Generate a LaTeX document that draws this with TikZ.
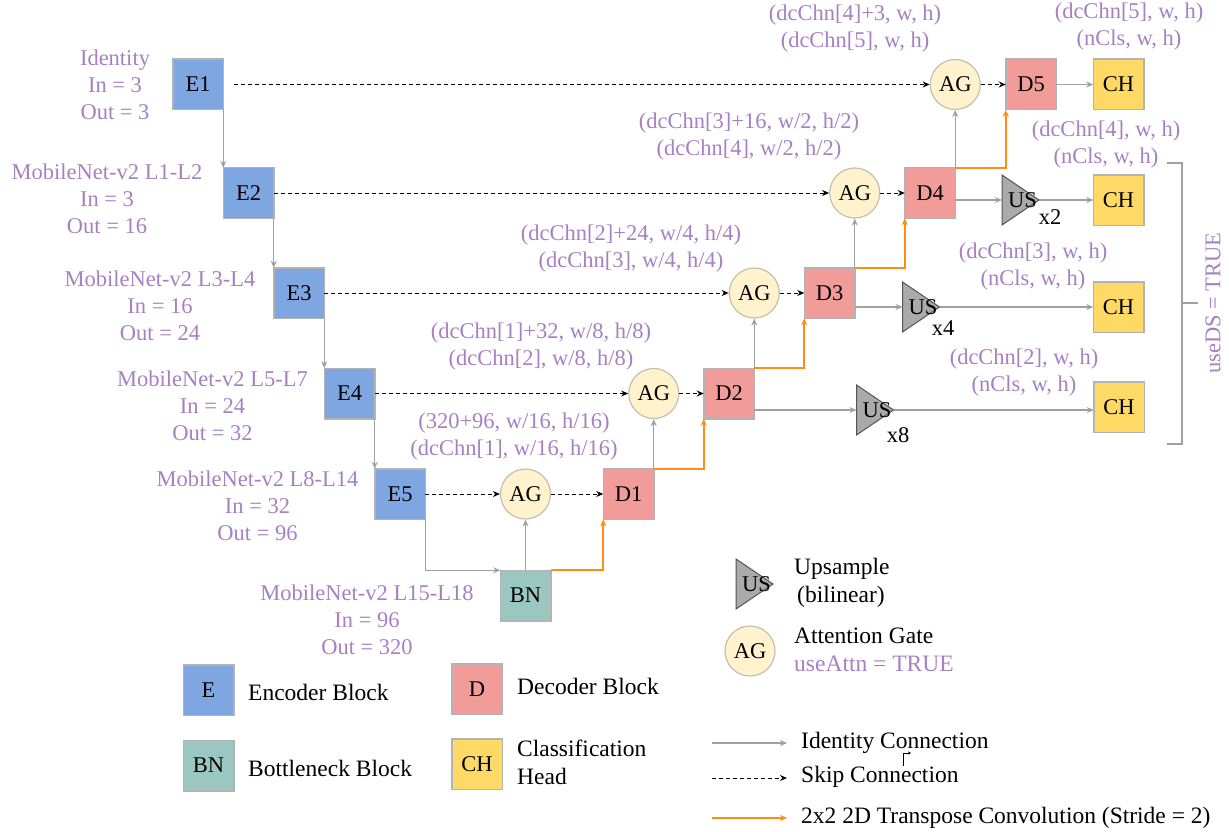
\documentclass[tikz,border=0pt]{standalone}
\usepackage{fontspec}
\setmainfont{Liberation Serif}
\usetikzlibrary{arrows.meta,backgrounds,calc}
\definecolor{encblue}{RGB}{126,166,224}
\definecolor{decpink}{RGB}{241,156,153}
\definecolor{chyellow}{RGB}{255,217,102}
\definecolor{bnteal}{RGB}{154,199,191}
\definecolor{agfill}{RGB}{255,242,204}
\definecolor{agdraw}{RGB}{196,192,176}
\definecolor{boxgray}{RGB}{179,179,179}
\definecolor{arrgray}{RGB}{160,160,160}
\definecolor{tcorange}{RGB}{255,140,20}
\definecolor{lblpurple}{RGB}{166,128,192}
\definecolor{usfill}{RGB}{170,170,170}
\definecolor{usdraw}{RGB}{85,85,85}
\begin{document}
\begin{tikzpicture}[x=1pt,y=-1pt,
  every node/.style={font=\fontsize{22.5}{27}\selectfont, inner sep=0pt},
  blk/.style={draw=boxgray, line width=1.5pt, minimum size=50.5pt, outer sep=0pt},
  enc/.style={blk, fill=encblue},
  dec/.style={blk, fill=decpink},
  bot/.style={blk, fill=bnteal},
  chd/.style={blk, fill=chyellow},
  agc/.style={circle, draw=agdraw, line width=1.2pt, fill=agfill, minimum size=50pt},
  usbox/.style={minimum width=37pt, minimum height=50pt, outer sep=0pt},
  lbl/.style={text=lblpurple, align=center},
  legtxt/.style={anchor=west, align=left, font=\fontsize{23.5}{28}\selectfont},
  idarr/.style={draw=arrgray, line width=1.4pt, -{Stealth[length=7pt,width=6pt]}},
  skarr/.style={draw=black, line width=1.0pt, dash pattern=on 4pt off 3pt, -{Stealth[length=7pt,width=6pt]}},
  tcarr/.style={draw=tcorange, line width=1.6pt, -{Stealth[length=7pt,width=6pt]}},
  brk/.style={draw=arrgray, line width=1.2pt},
]
\useasboundingbox (0,0) rectangle (1229,832);

% encoder
\node[enc] (E1) at (198,84.5) {E1};
\node[enc] (E2) at (248.5,193) {E2};
\node[enc] (E3) at (299,293) {E3};
\node[enc] (E4) at (349.5,393.5) {E4};
\node[enc] (E5) at (400,494) {E5};
\node[bot] (BN) at (525.5,595.5) {BN};

% decoder
\node[dec] (D1) at (628.5,494) {D1};
\node[dec] (D2) at (729,393.5) {D2};
\node[dec] (D3) at (829.5,293) {D3};
\node[dec] (D4) at (930,193) {D4};
\node[dec] (D5) at (1031,84.5) {D5};

% attention gates
\node[agc] (AG1) at (BN.north |- E5) {AG};
\node[agc] (AG2) at (D1.north east |- E4) {AG};
\node[agc] (AG3) at (D2.north east |- E3) {AG};
\node[agc] (AG4) at (D3.north east |- E2) {AG};
\node[agc] (AG5) at (D4.north east |- E1) {AG};

% classification heads
\node[chd] (CH1) at (1118.5,84.5) {CH};
\node[chd] (CH2) at (1118.5,200) {CH};
\node[chd] (CH3) at (1118.5,307) {CH};
\node[chd] (CH4) at (1119,407) {CH};

% upsample
\node[usbox] (US1) at (1020.5,200) {\hspace{4pt}US};
\node[usbox] (US2) at (921,307) {\hspace{4pt}US};
\node[usbox] (US3) at (875,410) {\hspace{4pt}US};
\node (x2) at (1050,217) {x2};
\node (x4) at (943,328) {x4};
\node (x8) at (898,435) {x8};

% encoder labels
\node[lbl] (lE1) at (115,85) {Identity\\In = 3\\Out = 3};
\node[lbl] (lE2) at (107,199) {MobileNet-v2 L1-L2\\In = 3\\Out = 16};
\node[lbl] (lE3) at (160,306) {MobileNet-v2 L3-L4\\In = 16\\Out = 24};
\node[lbl] (lE4) at (212.5,406) {MobileNet-v2 L5-L7\\In = 24\\Out = 32};
\node[lbl] (lE5) at (257.5,506) {MobileNet-v2 L8-L14\\In = 32\\Out = 96};
\node[lbl] (lBN) at (367,620) {MobileNet-v2 L15-L18\\In = 96\\Out = 320};

% decoder labels
\node[lbl] (lD1) at (514,437) {(320+96, w/16, h/16)\\(dcChn[1], w/16, h/16)};
\node[lbl] (lD2) at (541,347) {(dcChn[1]+32, w/8, h/8)\\(dcChn[2], w/8, h/8)};
\node[lbl] (lD3) at (631,249) {(dcChn[2]+24, w/4, h/4)\\(dcChn[3], w/4, h/4)};
\node[lbl] (lD4) at (749,137) {(dcChn[3]+16, w/2, h/2)\\(dcChn[4], w/2, h/2)};
\node[lbl] (lD5) at (855,29) {(dcChn[4]+3, w, h)\\(dcChn[5], w, h)};
\node[lbl] (lC1) at (1129,27) {(dcChn[5], w, h)\\(nCls, w, h)};
\node[lbl] (lC2) at (1106,145) {(dcChn[4], w, h)\\(nCls, w, h)};
\node[lbl] (lC3) at (1033,267) {(dcChn[3], w, h)\\(nCls, w, h)};
\node[lbl] (lC4) at (1024,373) {(dcChn[2], w, h)\\(nCls, w, h)};

% deep supervision bracket
\coordinate (b1) at (1167,163);
\coordinate (b2) at (1182,163);
\coordinate (b3) at (1182,444);
\coordinate (b4) at (1167,444);
\coordinate (bm) at (1182,303);
\coordinate (bt) at (1198,303);
\draw[brk] (b1) -- (b2) -- (b3) -- (b4);
\draw[brk] (bm) -- (bt);
\node[lbl, rotate=90] (lDS) at (1213,303) {useDS = TRUE};

% encoder chain
\draw[idarr] (E1.south east) -- (E2.north west);
\draw[idarr] (E2.south east) -- (E3.north west);
\draw[idarr] (E3.south east) -- (E4.north west);
\draw[idarr] (E4.south east) -- (E5.north west);
\draw[idarr] (E5.south east) |- (BN.north west);

% skip connections
\draw[skarr] ([xshift=11pt]E1.east) -- (AG5.west);
\draw[skarr] (E2.east) -- (AG4.west);
\draw[skarr] (E3.east) -- (AG3.west);
\draw[skarr] (E4.east) -- (AG2.west);
\draw[skarr] (E5.east) -- (AG1.west);
\draw[skarr] (AG1.east) -- (D1.west);
\draw[skarr] (AG2.east) -- (D2.west);
\draw[skarr] (AG3.east) -- (D3.west);
\draw[skarr] (AG4.east) -- (D4.west);
\draw[skarr] (AG5.east) -- (D5.west);

% gating signals
\draw[idarr] (BN.north) -- (AG1.south);
\draw[idarr] (D1.north east) -- (AG2.south);
\draw[idarr] (D2.north east) -- (AG3.south);
\draw[idarr] (D3.north east) -- (AG4.south);
\draw[idarr] (D4.north east) -- (AG5.south);

% transpose convolutions
\draw[tcarr] (BN.north east) -| (D1.south west);
\draw[tcarr] (D1.north east) -| (D2.south west);
\draw[tcarr] (D2.north east) -| (D3.south west);
\draw[tcarr] (D3.north east) -| (D4.south west);
\draw[tcarr] (D4.north east) -| (D5.south west);

% outputs
\draw[idarr] (D5.east) -- (CH1.west);
\draw[idarr] (D4.east |- US1.west) -- (US1.west);
\draw[idarr] (D3.east |- US2.west) -- (US2.west);
\draw[idarr] (D2.east |- US3.west) -- (US3.west);
\draw[idarr] (US1.east) -- (US1.east -| CH2.west);
\draw[idarr] (US2.east) -- (US2.east -| CH3.west);
\draw[idarr] (US3.east) -- (US3.east -| CH4.west);

% legend
\node[enc] (legE) at (208.5,690) {E};
\node[legtxt] (legEt) at (248,692) {Encoder Block};
\node[bot] (legBN) at (208.5,765.5) {BN};
\node[legtxt] (legBNt) at (248,768) {Bottleneck Block};
\node[dec] (legD) at (477,689) {D};
\node[legtxt] (legDt) at (517,686) {Decoder Block};
\node[chd] (legCH) at (477,764) {CH};
\node[legtxt] (legCHt) at (517,762) {Classification\\Head};
\node[usbox] (legUS) at (754.5,584) {\hspace{4pt}US};
\node[legtxt] (legUSt) at (794,583) {Upsample\\\hspace{3pt}(bilinear)};
\node[agc] (legAG) at (750,651) {AG};
\node[legtxt] (legAGt) at (794,650) {Attention Gate\\{\color{lblpurple}useAttn = TRUE}};

\coordinate (li1) at (712,743);
\coordinate (li2) at (787,743);
\coordinate (ls1) at (712,778);
\coordinate (ls2) at (787,778);
\coordinate (lt1) at (712,818);
\coordinate (lt2) at (787,818);
\draw[idarr] (li1) -- (li2);
\draw[skarr] (ls1) -- (ls2);
\draw[tcarr] (lt1) -- (lt2);
\node[legtxt] (lit) at (801,743) {Identity Connection};
\node[legtxt] (lst) at (801,777) {Skip Connection};
\node[legtxt] (ltt) at (801,818) {2x2 2D Transpose Convolution (Stride = 2)};
\coordinate (art1) at (903,766);
\coordinate (art2) at (911,753);
\draw[black, line width=0.6pt, -{Stealth[length=3pt,width=3pt]}] (art1) |- (art2);

% triangles behind the US text
\begin{scope}[on background layer]
\foreach \u in {US1,US2,US3,legUS}
  \draw[fill=usfill, draw=usdraw, line width=1pt] (\u.north west) -- (\u.east) -- (\u.south west) -- cycle;
\end{scope}
\end{tikzpicture}
\end{document}
